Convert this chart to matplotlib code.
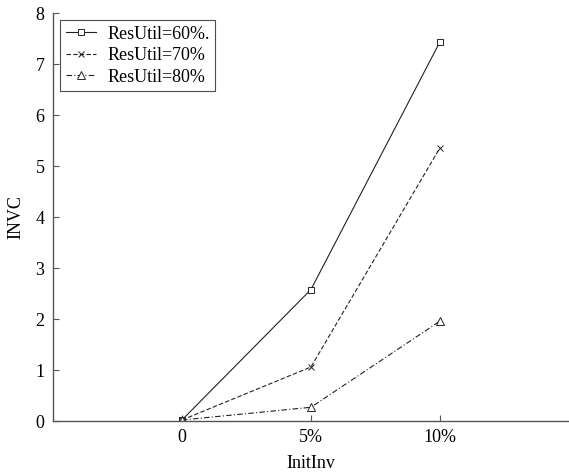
import matplotlib.pyplot as plt

categories = ["0", "5%", "10%"]
util_60 = [0.02, 2.58, 7.44]
util_70 = [0.02, 1.06, 5.36]
util_80 = [0.02, 0.27, 1.96]
labels = ["ResUtil=60%.", "ResUtil=70%", "ResUtil=80%"]

plt.rcParams['font.family'] = ['Liberation Serif', 'DejaVu Serif']

fig = plt.figure(figsize=(5.69, 4.72), dpi=100)
ax = fig.add_axes([0.093, 0.108, 0.907, 0.864])

x = range(len(categories))
ax.plot(x, util_60, color="#222222", linestyle="-", linewidth=0.8,
        marker="s", markersize=5, markerfacecolor="white", markeredgewidth=0.7, label=labels[0])
ax.plot(x, util_70, color="#222222", linestyle=(0, (4, 2)), linewidth=0.8,
        marker="x", markersize=4, markeredgewidth=0.7, label=labels[1])
ax.plot(x, util_80, color="#222222", linestyle=(0, (5, 2, 1, 2)), linewidth=0.8,
        marker="^", markersize=6, markerfacecolor="white", markeredgewidth=0.7, label=labels[2])

ax.set_xlim(-1, 3)
ax.set_ylim(0, 8)
ax.set_xticks(list(x))
ax.set_xticklabels(categories)
ax.set_yticks(range(0, 9))

for side in ["top", "right"]:
    ax.spines[side].set_visible(False)
for side in ["left", "bottom"]:
    ax.spines[side].set_color("#555555")
    ax.spines[side].set_linewidth(1.0)

ax.tick_params(direction="in", length=4, color="#555555", labelsize=13, pad=6)
ax.set_xlabel("InitInv", fontsize=13, labelpad=6)
ax.set_ylabel("INVC", fontsize=13, labelpad=8)

leg = ax.legend(loc="upper left", bbox_to_anchor=(0.014, 0.983), borderaxespad=0,
                fontsize=13, frameon=True, fancybox=False, handlelength=1.7,
                borderpad=0.3, labelspacing=0.25, handletextpad=0.6)
leg.get_frame().set_edgecolor("#222222")
leg.get_frame().set_linewidth(0.8)

fig.savefig("out.png", dpi=100)
